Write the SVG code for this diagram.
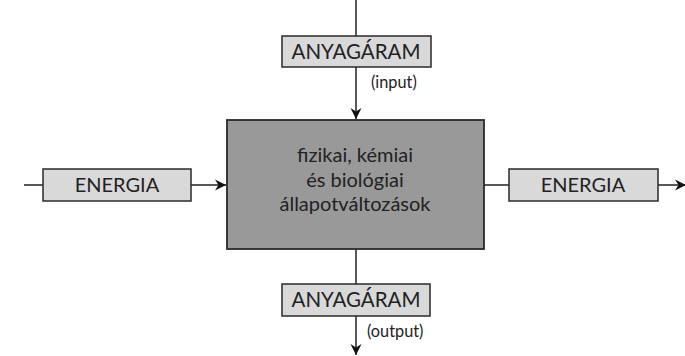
<svg xmlns="http://www.w3.org/2000/svg" width="685" height="356" viewBox="0 0 685 356">
  <style>
    .lbl { fill: #d9d9d9; stroke: #2a2a2a; stroke-width: 1.5; }
    .core { fill: #999999; stroke: #2a2a2a; stroke-width: 1.8; }
    .t { font-family: Lato, "Open Sans", sans-serif; fill: #222; text-anchor: middle; }
    .big { font-size: 20px; }
    .cap { font-size: 20.5px; }
    .small { font-size: 16.3px; text-anchor: start; }
    .wire { stroke: #222; stroke-width: 1.5; fill: none; }
  </style>
  <defs>
    <marker id="head" markerUnits="userSpaceOnUse" markerWidth="14" markerHeight="12" refX="11" refY="6" orient="auto">
      <path d="M11,6 L0,0.5 L3.5,6 L0,11.5 Z" fill="#111"/>
    </marker>
  </defs>

  <rect width="685" height="356" fill="#ffffff"/>

  <!-- connectors -->
  <g id="connectors">
    <line class="wire" x1="356" y1="0" x2="356" y2="36"/>
    <line class="wire" x1="356" y1="67" x2="356" y2="119" marker-end="url(#head)"/>
    <line class="wire" x1="24" y1="185" x2="43" y2="185"/>
    <line class="wire" x1="191" y1="185" x2="226" y2="185" marker-end="url(#head)"/>
    <line class="wire" x1="484" y1="185" x2="509" y2="185"/>
    <line class="wire" x1="658" y1="185" x2="686" y2="185" marker-end="url(#head)"/>
    <line class="wire" x1="356" y1="249" x2="356" y2="284"/>
    <line class="wire" x1="356" y1="316" x2="356" y2="355" marker-end="url(#head)"/>
  </g>

  <!-- central process -->
  <g id="process">
    <rect class="core" x="227" y="120" width="257" height="129"/>
    <text class="t big" x="355" y="162">fizikai, kémiai</text>
    <text class="t big" x="355" y="186.5">és biológiai</text>
    <text class="t big" x="355" y="211">állapotváltozások</text>
  </g>

  <!-- material input -->
  <g id="material-in">
    <rect class="lbl" x="282" y="36" width="149" height="31"/>
    <text class="t cap" x="356" y="59">ANYAGÁRAM</text>
    <text class="t small" x="371" y="88">(input)</text>
  </g>

  <!-- material output -->
  <g id="material-out">
    <rect class="lbl" x="282" y="284" width="148" height="32"/>
    <text class="t cap" x="356" y="307">ANYAGÁRAM</text>
    <text class="t small" x="367" y="337">(output)</text>
  </g>

  <!-- energy input -->
  <g id="energy-in">
    <rect class="lbl" x="43" y="169" width="148" height="32"/>
    <text class="t big" x="117" y="192">ENERGIA</text>
  </g>

  <!-- energy output -->
  <g id="energy-out">
    <rect class="lbl" x="509" y="169" width="149" height="32"/>
    <text class="t big" x="583" y="192">ENERGIA</text>
  </g>
</svg>
